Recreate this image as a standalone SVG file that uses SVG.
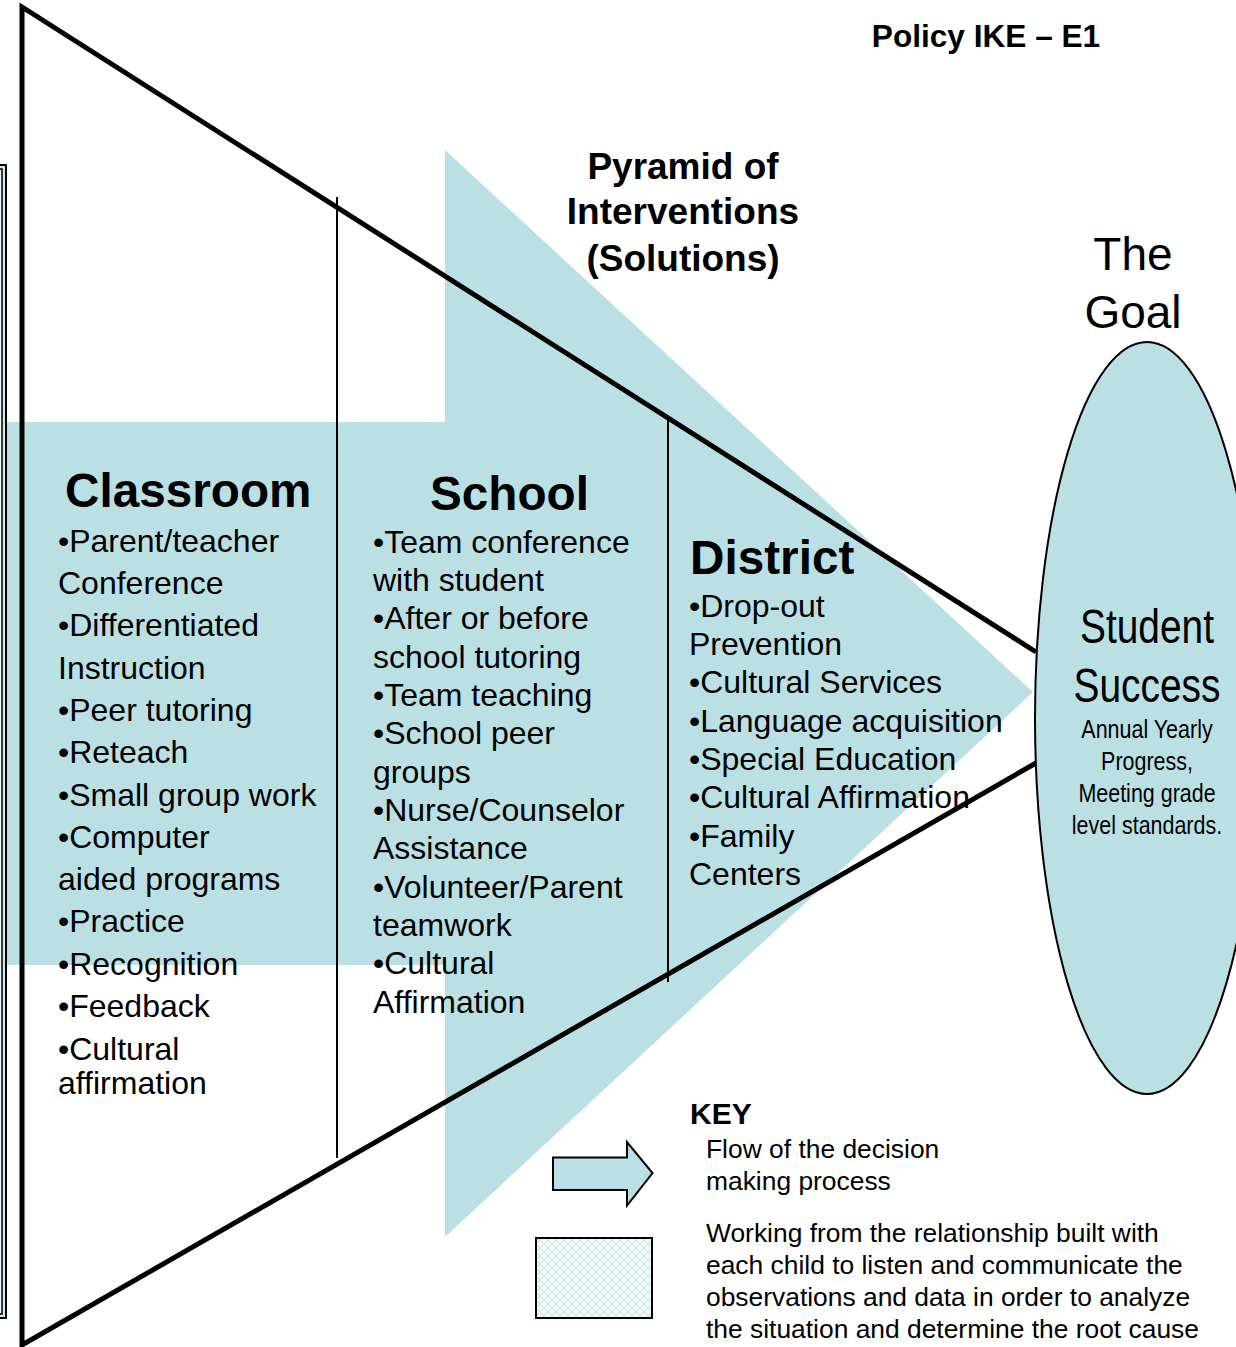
<svg xmlns="http://www.w3.org/2000/svg" width="1236" height="1347" viewBox="0 0 1236 1347">
<style>
.t{font-family:"Liberation Sans",Arial,sans-serif;fill:#000}
.b{font-weight:bold}
.item{font-size:32px}
.head{font-size:47.7px;font-weight:bold}
.n{font-family:"Liberation Sans",Arial,sans-serif;fill:#000;text-anchor:middle}
.key{font-size:26.4px}
</style>
<defs>
<pattern id="dots" width="8" height="8" patternUnits="userSpaceOnUse">
<rect width="8" height="8" fill="#f4fafb"/>
<path d="M0 4 L4 0 L8 4 L4 8 Z" fill="none" stroke="#d3eaec" stroke-width="1.2"/>
</pattern>
</defs>
<rect width="1236" height="1347" fill="#ffffff"/>

<g id="flow-arrow">
<polygon points="0,422 445,422 445,150 1033,692 445,1237 445,965 0,965" fill="#bae0e4"/>
</g>

<g id="left-frame">
<rect x="-30" y="165" width="36" height="1153" fill="#cfe8eb" stroke="#000" stroke-width="2"/>
<rect x="-30" y="169" width="32" height="1145" fill="#eef7f8" stroke="#000" stroke-width="1.5"/>
</g>

<g id="connectors" fill="none" stroke="#000">
<polyline points="1036,652 22,7 22,1345 1036,763" stroke-width="5" stroke-linejoin="miter" stroke-miterlimit="20"/>
<line x1="337" y1="197" x2="337" y2="1158" stroke-width="2"/>
<line x1="668" y1="420" x2="668" y2="982" stroke-width="2"/>
</g>

<g id="goal">
<ellipse cx="1147" cy="718" rx="112" ry="376" fill="#bae0e4" stroke="#000" stroke-width="2"/>
<g transform="translate(1147,0) scale(0.81,1)">
<text class="n" x="0" y="643" font-size="48">Student</text>
<text class="n" x="0" y="702" font-size="48">Success</text>
<text class="n" x="0" y="738" font-size="26.5">Annual Yearly</text>
<text class="n" x="0" y="770" font-size="26.5">Progress,</text>
<text class="n" x="0" y="802" font-size="26.5">Meeting grade</text>
<text class="n" x="0" y="834" font-size="26.5">level standards.</text>
</g>
</g>

<g id="title">
<text class="t b" x="986" y="47" font-size="31.6" text-anchor="middle">Policy IKE – E1</text>
<text class="t b" x="683" y="179" font-size="37" text-anchor="middle">Pyramid of</text>
<text class="t b" x="683" y="224" font-size="37" text-anchor="middle">Interventions</text>
<text class="t b" x="683" y="271" font-size="37" text-anchor="middle">(Solutions)</text>
<text class="t" x="1133" y="270" font-size="46" text-anchor="middle">The</text>
<text class="t" x="1133" y="328" font-size="46" text-anchor="middle">Goal</text>
</g>

<g id="classroom">
<text class="t head" x="65" y="507">Classroom</text>
<text class="t item" x="58" y="552">•Parent/teacher</text>
<text class="t item" x="58" y="594">Conference</text>
<text class="t item" x="58" y="636">•Differentiated</text>
<text class="t item" x="58" y="679">Instruction</text>
<text class="t item" x="58" y="721">•Peer tutoring</text>
<text class="t item" x="58" y="763">•Reteach</text>
<text class="t item" x="58" y="806">•Small group work</text>
<text class="t item" x="58" y="848">•Computer</text>
<text class="t item" x="58" y="890">aided programs</text>
<text class="t item" x="58" y="932">•Practice</text>
<text class="t item" x="58" y="975">•Recognition</text>
<text class="t item" x="58" y="1017">•Feedback</text>
<text class="t item" x="58" y="1060">•Cultural</text>
<text class="t item" x="58" y="1094">affirmation</text>
</g>

<g id="school">
<text class="t head" x="430" y="510">School</text>
<text class="t item" x="373" y="553">•Team conference</text>
<text class="t item" x="373" y="591">with student</text>
<text class="t item" x="373" y="629">•After or before</text>
<text class="t item" x="373" y="668">school tutoring</text>
<text class="t item" x="373" y="706">•Team teaching</text>
<text class="t item" x="373" y="744">•School peer</text>
<text class="t item" x="373" y="783">groups</text>
<text class="t item" x="373" y="821">•Nurse/Counselor</text>
<text class="t item" x="373" y="859">Assistance</text>
<text class="t item" x="373" y="898">•Volunteer/Parent</text>
<text class="t item" x="373" y="936">teamwork</text>
<text class="t item" x="373" y="974">•Cultural</text>
<text class="t item" x="373" y="1013">Affirmation</text>
</g>

<g id="district">
<text class="t head" x="690" y="574">District</text>
<text class="t item" x="689" y="617">•Drop-out</text>
<text class="t item" x="689" y="655">Prevention</text>
<text class="t item" x="689" y="693">•Cultural Services</text>
<text class="t item" x="689" y="732">•Language acquisition</text>
<text class="t item" x="689" y="770">•Special Education</text>
<text class="t item" x="689" y="808">•Cultural Affirmation</text>
<text class="t item" x="689" y="847">•Family</text>
<text class="t item" x="689" y="885">Centers</text>
</g>

<g id="key">
<text class="t b" x="690" y="1124" font-size="30">KEY</text>
<polygon points="553,1157.5 627,1157.5 627,1142 652.5,1173 627,1205.5 627,1190 553,1190" fill="#bae0e4" stroke="#000" stroke-width="2"/>
<text class="t key" x="706" y="1158">Flow of the decision</text>
<text class="t key" x="706" y="1190">making process</text>
<rect x="536" y="1238" width="116" height="80" fill="url(#dots)" stroke="#000" stroke-width="2"/>
<text class="t key" x="706" y="1242">Working from the relationship built with</text>
<text class="t key" x="706" y="1274">each child to listen and communicate the</text>
<text class="t key" x="706" y="1306">observations and data in order to analyze</text>
<text class="t key" x="706" y="1338">the situation and determine the root cause</text>
</g>
</svg>
